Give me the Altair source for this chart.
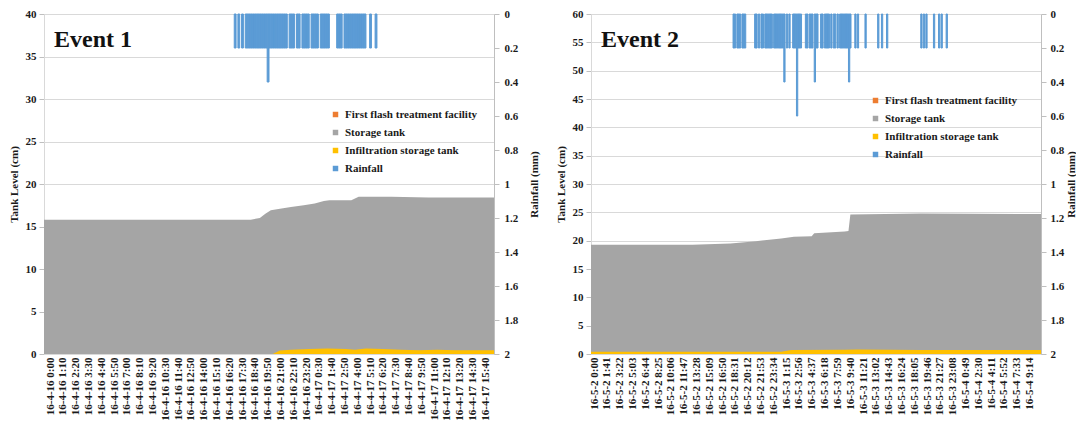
import altair as alt
import pandas as pd

SERIES = ["First flash treatment facility", "Storage tank", "Infiltration storage tank", "Rainfall"]
COLORS = ["#ED7D31", "#A5A5A5", "#FFC000", "#5B9BD5"]
FONT = "Liberation Serif"

# ---------------- Event 1 (minutes since 16-4-16 0:00) ----------------
e1_labels = ["16-4-16 0:00", "16-4-16 1:10", "16-4-16 2:20", "16-4-16 3:30", "16-4-16 4:40",
             "16-4-16 5:50", "16-4-16 7:00", "16-4-16 8:10", "16-4-16 9:20", "16-4-16 10:30",
             "16-4-16 11:40", "16-4-16 12:50", "16-4-16 14:00", "16-4-16 15:10", "16-4-16 16:20",
             "16-4-16 17:30", "16-4-16 18:40", "16-4-16 19:50", "16-4-16 21:00", "16-4-16 22:10",
             "16-4-16 23:20", "16-4-17 0:30", "16-4-17 1:40", "16-4-17 2:50", "16-4-17 4:00",
             "16-4-17 5:10", "16-4-17 6:20", "16-4-17 7:30", "16-4-17 8:40", "16-4-17 9:50",
             "16-4-17 11:00", "16-4-17 12:10", "16-4-17 13:20", "16-4-17 14:30", "16-4-17 15:40"]
e1_step = 70
e1_xmax = 2460

e1_storage_t = [0, 1130, 1180, 1210, 1240, 1290, 1350, 1420, 1480, 1530, 1560, 1680, 1700, 1720, 1900, 2100, 2460]
e1_storage_v = [15.8, 15.8, 16.0, 16.5, 16.9, 17.1, 17.3, 17.5, 17.7, 18.0, 18.1, 18.1, 18.3, 18.5, 18.5, 18.4, 18.4]

e1_inf_t = [0, 1250, 1290, 1350, 1450, 1550, 1650, 1700, 1760, 1850, 1950, 2050, 2150, 2250, 2350, 2460]
e1_inf_v = [0, 0, 0.4, 0.5, 0.6, 0.65, 0.6, 0.5, 0.65, 0.6, 0.5, 0.45, 0.5, 0.45, 0.45, 0.45]

e1_rain_t = [1040, 1060, 1080,
             1100, 1110, 1120, 1130, 1140, 1150, 1160, 1170, 1180, 1190, 1200, 1210, 1220, 1230,
             1240, 1250, 1260, 1270, 1280, 1290, 1300, 1310, 1320,
             1340, 1350, 1360, 1380, 1390, 1410, 1420, 1430, 1440, 1460, 1470, 1480, 1490,
             1510, 1520, 1530, 1540, 1550,
             1600, 1610, 1620, 1640, 1650, 1660, 1670, 1680, 1690, 1700, 1710, 1720, 1730, 1740, 1750,
             1780, 1810]
e1_rain_v = [0.2, 0.2, 0.2,
             0.2, 0.2, 0.2, 0.2, 0.2, 0.2, 0.2, 0.2, 0.2, 0.2, 0.2, 0.2, 0.4, 0.2,
             0.2, 0.2, 0.2, 0.2, 0.2, 0.2, 0.2, 0.2, 0.2,
             0.2, 0.2, 0.2, 0.2, 0.2, 0.2, 0.2, 0.2, 0.2, 0.2, 0.2, 0.2, 0.2,
             0.2, 0.2, 0.2, 0.2, 0.2,
             0.2, 0.2, 0.2, 0.2, 0.2, 0.2, 0.2, 0.2, 0.2, 0.2, 0.2, 0.2, 0.2, 0.2, 0.2,
             0.2, 0.2]

# ---------------- Event 2 (minutes since 16-5-2 0:00) ----------------
e2_labels = ["16-5-2 0:00", "16-5-2 1:41", "16-5-2 3:22", "16-5-2 5:03", "16-5-2 6:44",
             "16-5-2 8:25", "16-5-2 10:06", "16-5-2 11:47", "16-5-2 13:28", "16-5-2 15:09",
             "16-5-2 16:50", "16-5-2 18:31", "16-5-2 20:12", "16-5-2 21:53", "16-5-2 23:34",
             "16-5-3 1:15", "16-5-3 2:56", "16-5-3 4:37", "16-5-3 6:18", "16-5-3 7:59",
             "16-5-3 9:40", "16-5-3 11:21", "16-5-3 13:02", "16-5-3 14:43", "16-5-3 16:24",
             "16-5-3 18:05", "16-5-3 19:46", "16-5-3 21:27", "16-5-3 23:08", "16-5-4 0:49",
             "16-5-4 2:30", "16-5-4 4:11", "16-5-4 5:52", "16-5-4 7:33", "16-5-4 9:14"]
e2_step = 101
e2_xmax = 3548

e2_storage_t = [0, 800, 1100, 1300, 1500, 1600, 1740, 1760, 2000, 2030, 2045, 2600, 3548]
e2_storage_v = [19.3, 19.3, 19.5, 19.9, 20.4, 20.7, 20.8, 21.3, 21.6, 21.7, 24.6, 24.8, 24.7]

e2_inf_t = [0, 1500, 1580, 2000, 2100, 2600, 3548]
e2_inf_v = [0.4, 0.4, 0.7, 0.75, 0.8, 0.7, 0.7]

e2_rain_t = [1120, 1130, 1150, 1160, 1170, 1190, 1200, 1210,
             1290, 1300, 1320, 1340, 1350,
             1370, 1380, 1390, 1400, 1410, 1420, 1440, 1450, 1460, 1470, 1480, 1490, 1500, 1510, 1520,
             1540, 1560,
             1590, 1600, 1610, 1620, 1630, 1640, 1650,
             1690, 1700, 1720, 1730, 1740, 1760, 1770, 1780,
             1810, 1820, 1840, 1850, 1860, 1870, 1890,
             1910, 1920, 1940,
             1960, 1970, 1980, 1990, 2000, 2010, 2020, 2030, 2040,
             2080, 2100, 2160,
             2260, 2290, 2330,
             2600, 2620, 2640, 2700, 2740, 2760, 2800]
e2_rain_v = [0.2, 0.2, 0.2, 0.2, 0.2, 0.2, 0.2, 0.2,
             0.2, 0.2, 0.2, 0.2, 0.2,
             0.2, 0.2, 0.2, 0.2, 0.2, 0.2, 0.2, 0.2, 0.2, 0.2, 0.2, 0.2, 0.2, 0.2, 0.4,
             0.2, 0.2,
             0.2, 0.2, 0.2, 0.6, 0.2, 0.2, 0.2,
             0.2, 0.2, 0.2, 0.2, 0.2, 0.4, 0.2, 0.2,
             0.2, 0.2, 0.2, 0.2, 0.2, 0.2, 0.2,
             0.2, 0.2, 0.2,
             0.2, 0.2, 0.2, 0.2, 0.2, 0.2, 0.2, 0.4, 0.2,
             0.2, 0.2, 0.2,
             0.2, 0.2, 0.2,
             0.2, 0.2, 0.2, 0.2, 0.2, 0.2, 0.2]

tank_ticks1 = [0, 5, 10, 15, 20, 25, 30, 35, 40]
tank_ticks2 = [0, 5, 10, 15, 20, 25, 30, 35, 40, 45, 50, 55, 60]
rain_ticks = [0, 0.2, 0.4, 0.6, 0.8, 1, 1.2, 1.4, 1.6, 1.8, 2]

W, H = 450, 340
TXT = "#1a1a1a"


def panel(title, labels, step, xmax, label_offset, st_t, st_v, inf_t, inf_v, rain_t, rain_v,
          tank_ticks, legend_x, legend_y, rain_title_x, rain_label_pad):
    storage = pd.DataFrame({"t": st_t, "v": st_v, "series": "Storage tank"})
    infil = pd.DataFrame({"t": inf_t, "v": inf_v, "series": "Infiltration storage tank"})
    rain = pd.DataFrame({"t": rain_t, "t2": [t + 10 for t in rain_t], "r": rain_v,
                         "z": [0] * len(rain_t), "series": "Rainfall"})

    label_js = "[" + ",".join("'" + s + "'" for s in labels) + "]"
    xaxis = alt.Axis(values=[i * step for i in range(len(labels))],
                     labelExpr=label_js + "[round(datum.value / " + str(step) + ")]",
                     labelAngle=-90, labelFont=FONT, labelFontWeight="bold", labelFontSize=11,
                     labelColor=TXT, labelPadding=3, labelOffset=label_offset,
                     labelOverlap=False, labelFlush=False, ticks=False, grid=False,
                     domainColor="#D9D9D9", title=None)
    xenc = alt.X("t:Q", scale=alt.Scale(domain=[0, xmax], nice=False, zero=False), axis=xaxis)
    ymax = tank_ticks[-1]
    yenc = alt.Y("v:Q", scale=alt.Scale(domain=[0, ymax], nice=False),
                 axis=alt.Axis(values=tank_ticks, title="Tank Level (cm)", grid=True,
                               gridColor="#D9D9D9", domainColor="#D9D9D9", tickColor="#BFBFBF",
                               tickSize=5, labelPadding=3, titlePadding=6,
                               labelFont=FONT, labelFontWeight="bold", labelFontSize=11,
                               labelColor=TXT, titleFont=FONT, titleFontWeight="bold",
                               titleFontSize=11, titleColor=TXT))
    color = alt.Color("series:N", scale=alt.Scale(domain=SERIES, range=COLORS),
                      legend=alt.Legend(orient="none", legendX=legend_x, legendY=legend_y,
                                        title=None, symbolType="square", symbolSize=30,
                                        symbolStrokeWidth=0, labelFont=FONT,
                                        labelFontWeight="bold", labelFontSize=11,
                                        labelColor=TXT, rowPadding=6, labelLimit=300))

    a1 = alt.Chart(storage).mark_area(interpolate="linear", opacity=1).encode(
        x=xenc, y=yenc, color=color)
    a2 = alt.Chart(infil).mark_area(interpolate="linear", opacity=1).encode(
        x=xenc, y=yenc, color=color)
    txt = alt.Chart(pd.DataFrame({"label": [title]})).mark_text(
        align="left", baseline="middle", font=FONT, fontWeight="bold", fontSize=24, color="#111111"
    ).encode(text="label:N", x=alt.value(10), y=alt.value(26))
    left = alt.layer(a1, a2, txt)

    bars = alt.Chart(rain).mark_bar(opacity=1, stroke="#5B9BD5", strokeWidth=1).encode(
        x=xenc, x2="t2:Q",
        y=alt.Y("r:Q", scale=alt.Scale(domain=[0, 2], reverse=True, nice=False),
                axis=alt.Axis(orient="right", values=rain_ticks, format="~g", title="Rainfall (mm)",
                              titleAngle=270, titleX=rain_title_x, titleY=H / 2,
                              titleAlign="center", titleBaseline="middle",
                              grid=False, domainColor="#BFBFBF",
                              tickColor="#BFBFBF", tickSize=5, labelPadding=rain_label_pad,
                              labelFont=FONT, labelFontWeight="bold", labelFontSize=11,
                              labelColor=TXT, titleFont=FONT, titleFontWeight="bold",
                              titleFontSize=11, titleColor=TXT)),
        y2="z:Q", color=color)

    return alt.layer(left, bars).resolve_scale(y="independent").properties(width=W, height=H)


p1 = panel("Event 1", e1_labels, e1_step, e1_xmax, 6, e1_storage_t, e1_storage_v, e1_inf_t, e1_inf_v,
           e1_rain_t, e1_rain_v, tank_ticks1, 286, 95, 40, 5)
p2 = panel("Event 2", e2_labels, e2_step, e2_xmax, 3, e2_storage_t, e2_storage_v, e2_inf_t, e2_inf_v,
           e2_rain_t, e2_rain_v, tank_ticks2, 279, 81, 30, 4)

chart = alt.hconcat(p1, p2, spacing=16).resolve_legend(color="independent").properties(
    padding=0, background="white"
).configure_view(strokeWidth=0)

chart.save("out.html", embed_options={"renderer": "svg", "actions": False})
